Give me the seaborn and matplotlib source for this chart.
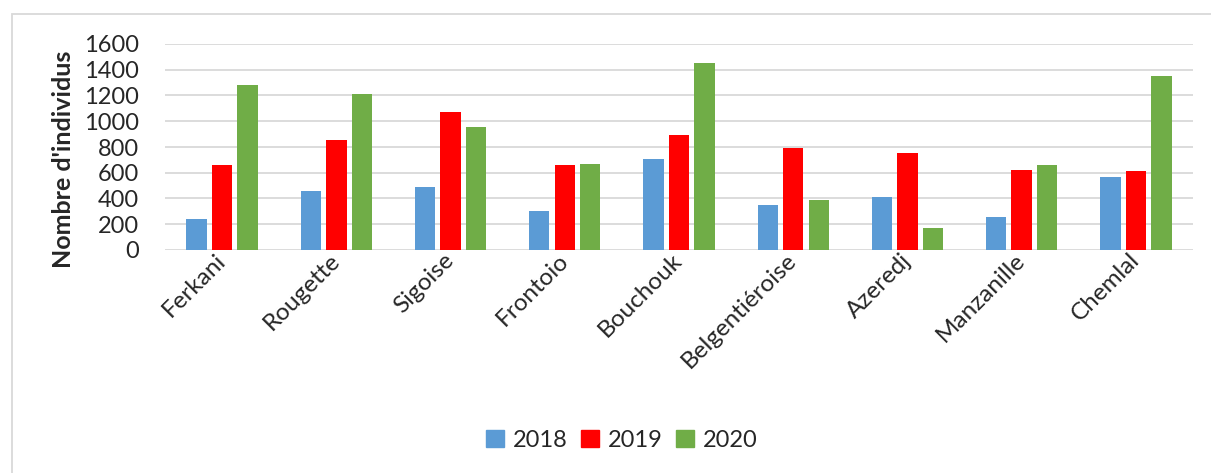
import matplotlib
matplotlib.use("Agg")
import matplotlib.pyplot as plt
import matplotlib.patches as mpatches
import pandas as pd
import seaborn as sns

varieties = ["Ferkani", "Rougette", "Sigoise", "Frontoio", "Bouchouk",
             "Belgentiéroise", "Azeredj", "Manzanille", "Chemlal"]
years = ["2018", "2019", "2020"]
counts_2018 = [240, 460, 490, 300, 710, 350, 410, 255, 570]
counts_2019 = [660, 855, 1070, 660, 890, 795, 750, 625, 610]
counts_2020 = [1280, 1210, 955, 670, 1450, 390, 170, 660, 1350]
y_ticks = [0, 200, 400, 600, 800, 1000, 1200, 1400, 1600]
colors = ["#5B9BD5", "#FF0000", "#70AD47"]

df = pd.DataFrame({
    "Variété": varieties * 3,
    "Année": sum([[y] * len(varieties) for y in years], []),
    "Nombre": counts_2018 + counts_2019 + counts_2020,
})

sns.set_theme(style="white")
plt.rcParams["font.family"] = ["Lato", "DejaVu Sans"]

W, H = 1211, 473
fig = plt.figure(figsize=(W / 100, H / 100), dpi=100)
ax = fig.add_axes([165 / W, 1 - 250 / H, (1193 - 165) / W, (250 - 44) / H])

sns.barplot(data=df, x="Variété", y="Nombre", hue="Année", hue_order=years,
            palette=colors, width=0.67, gap=0.2, saturation=1,
            edgecolor="none", ax=ax, legend=False, zorder=3)

ax.set_ylim(0, 1600)
ax.set_yticks(y_ticks)
ax.set_yticklabels([str(v) for v in y_ticks], fontsize=17)
ax.tick_params(axis="y", length=0, pad=19)
ax.tick_params(axis="x", length=0, pad=5)
ax.set_xlim(-0.5, len(varieties) - 0.5)
ax.grid(axis="y", color="#D9D9D9", linewidth=1.3, zorder=0)
ax.set_axisbelow(True)
for s in ax.spines.values():
    s.set_visible(False)

ax.set_xlabel("")
ax.set_ylabel("Nombre d'individus", fontsize=18, fontweight="bold")
ax.yaxis.set_label_coords(-0.088, 0.44)

for lab in ax.get_xticklabels():
    lab.set_rotation(45)
    lab.set_ha("right")
    lab.set_va("center")
    lab.set_rotation_mode("anchor")
    lab.set_fontsize(17.5)

handles = [mpatches.Patch(color=c, label=y) for c, y in zip(colors, years)]
fig.legend(handles=handles, loc="center", bbox_to_anchor=(622 / W, 1 - 440 / H),
           ncol=3, frameon=False, fontsize=17, handlelength=0.75, handleheight=0.75,
           handletextpad=0.4, columnspacing=0.55)

# chart area outline
fig.add_artist(mpatches.Rectangle((12 / W, -0.1), 1.2, 1.1 - 14 / H,
                                  transform=fig.transFigure, fill=False,
                                  edgecolor="#D9D9D9", linewidth=1.3))

fig.savefig("out.png", dpi=100)
